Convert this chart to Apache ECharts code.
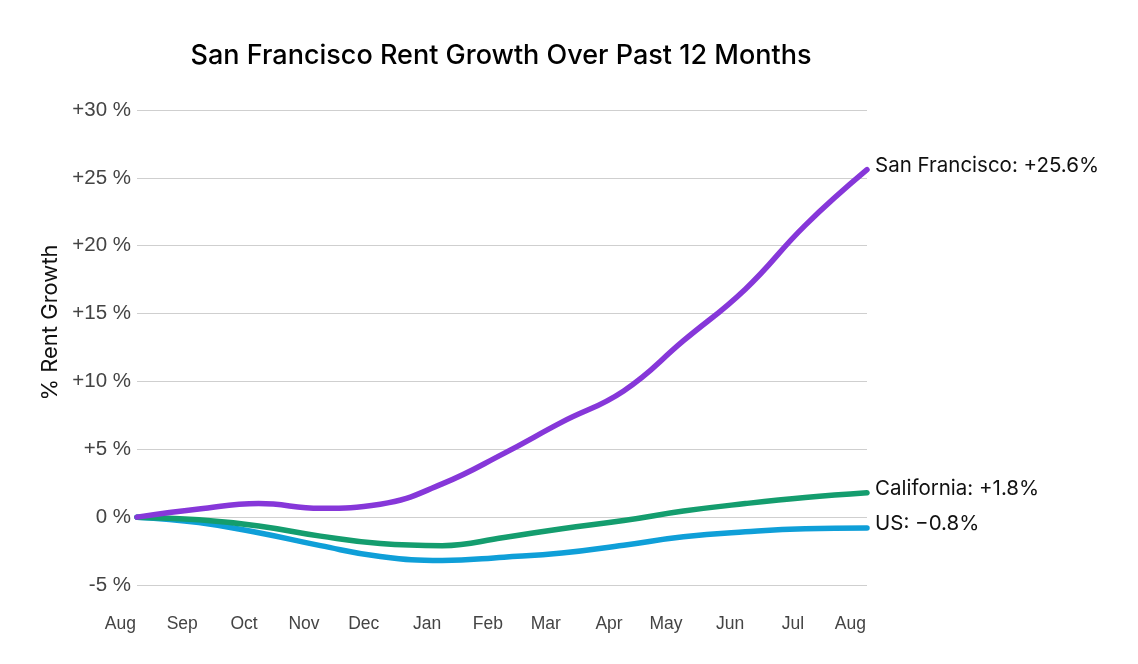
<!DOCTYPE html>
<html>
<head>
    <meta charset="UTF-8">
    <title>San Francisco Rent Growth</title>
</head>
<style>
    body{ margin:0; background:#fff; }
    #chart{ width:1138px; height:664px; }
</style>
<body>
<div id="chart"></div>
<script type="text/javascript" src="https://cdn.jsdelivr.net/npm/echarts@6/dist/echarts.min.js"></script>
<script>
    // month starts, Aug 2023 -> Aug 2024
    var months = ['2023-08-01','2023-09-01','2023-10-01','2023-11-01','2023-12-01','2024-01-01',
        '2024-02-01','2024-03-01','2024-04-01','2024-05-01','2024-06-01','2024-07-01','2024-08-01'];
    var monthNames = ['Aug','Sep','Oct','Nov','Dec','Jan','Feb','Mar','Apr','May','Jun','Jul','Aug'];

    var sanFrancisco = [0, 0.6, 1.0, 0.65, 0.95, 2.45, 4.7, 7.0, 9.3, 13.0, 16.8, 21.5, 25.6];
    var california   = [0, -0.2, -0.65, -1.4, -1.95, -2.1, -1.5, -0.85, -0.25, 0.45, 1.0, 1.45, 1.8];
    var us           = [0, -0.4, -1.15, -2.1, -2.9, -3.2, -2.95, -2.65, -2.07, -1.45, -1.08, -0.85, -0.8];

    var yTicks = [-5, 0, 5, 10, 15, 20, 25, 30];

    var names  = ['San Francisco', 'California', 'US'];
    var colors = ['#8637d9', '#149d6e', '#0f9fd8'];
    var values = [sanFrancisco, california, us];

    // days since the first month, so months get their real widths
    var t0 = Date.UTC(2023, 7, 1);
    var dayPos = months.map(function (d) {
        var p = d.split('-');
        return Math.round((Date.UTC(+p[0], +p[1] - 1, +p[2]) - t0) / 86400000);
    });

    function fmtPct(v){
        var s = v > 0 ? '+' : (v < 0 ? '\u2212' : '');
        return s + Math.abs(v).toFixed(1) + '%';
    }

    var series = [];
    for (var k = 0; k < names.length; k++) {
        var pts = [];
        for (var i = 0; i < months.length; i++) pts.push([dayPos[i], values[k][i]]);
        series.push({
            name: names[k],
            type: 'line',
            data: pts,
            smooth: 0.45,
            symbol: 'none',
            lineStyle: { width: 5.5, color: colors[k], cap: 'round' },
            itemStyle: { color: colors[k] },
            z: 10 - k,
            endLabel: {
                show: true,
                offset: [0, -4],
                color: '#111',
                fontFamily: 'Inter',
                fontSize: 20.5,
                formatter: function (p) { return p.seriesName + ': ' + fmtPct(p.value[1]); }
            }
        });
    }

    var draw = echarts.init(document.getElementById('chart'));
    draw.setOption({
        animation: false,
        backgroundColor: '#fff',
        title: {
            text: 'San Francisco Rent Growth Over Past 12 Months',
            left: 496, top: 37, textAlign: 'center',
            textStyle: { fontFamily: 'Inter', fontSize: 27, fontWeight: 500, color: '#000' }
        },
        grid: { left: 137, right: 271, top: 110, bottom: 79 },
        xAxis: {
            type: 'value',
            min: dayPos[0],
            max: dayPos[dayPos.length - 1],
            axisLine: { show: false },
            axisTick: { show: false },
            splitLine: { show: false },
            axisLabel: {
                customValues: dayPos,
                align: 'right',
                padding: [0, 1, 0, 0],
                margin: 30,
                color: '#444',
                fontFamily: 'Liberation Sans',
                fontSize: 17.5,
                formatter: function (v) { return monthNames[dayPos.indexOf(v)]; }
            }
        },
        yAxis: {
            type: 'value',
            min: yTicks[0],
            max: yTicks[yTicks.length - 1],
            interval: 5,
            name: '% Rent Growth',
            nameLocation: 'middle',
            nameGap: 75,
            nameTextStyle: { fontFamily: 'Inter', fontSize: 22, color: '#111', padding: [0, 0, 0, 50] },
            axisLine: { show: false },
            axisTick: { show: false },
            splitLine: { lineStyle: { color: '#cfcfcf', width: 1 } },
            axisLabel: {
                margin: 6,
                color: '#444',
                fontFamily: 'Liberation Sans',
                fontSize: 20.5,
                formatter: function (v) {
                    if (v > 0) return '+' + v + ' %';
                    if (v < 0) return '-' + Math.abs(v) + ' %';
                    return '0 %';
                }
            }
        },
        series: series
    });
</script>
</body>
</html>
